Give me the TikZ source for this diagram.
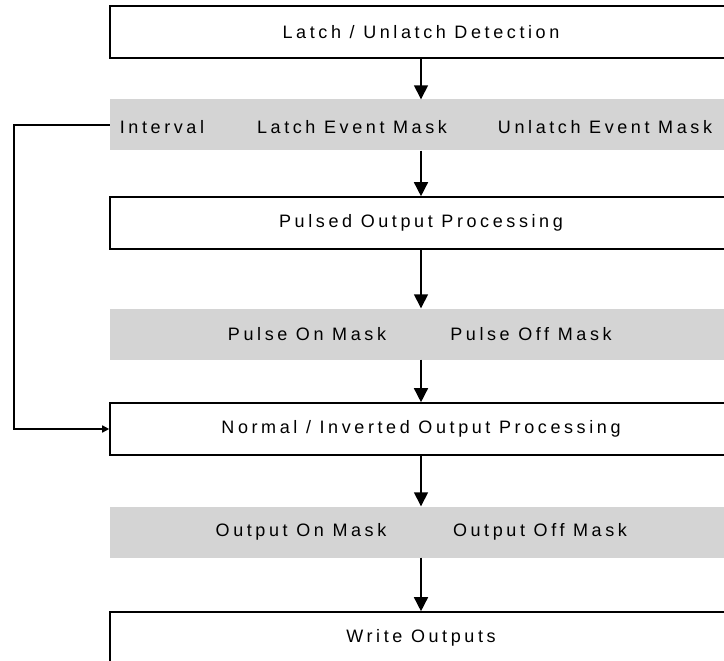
\documentclass[tikz,border=0pt]{standalone}
\usepackage{fontspec}
\setmainfont{Liberation Sans}[LetterSpace=20]
\usetikzlibrary{arrows.meta}
\tikzset{
  procbox/.style={draw,line width=1.6pt,fill=white,minimum width=622pt,minimum height=52pt,inner sep=0pt},
  maskband/.style={fill=black!17,minimum width=622pt,minimum height=51pt,inner sep=0pt},
  masklabel/.style={inner sep=0pt},
  flow/.style={line width=1.5pt,-{Triangle[width=14pt,length=14pt]}}
}
\begin{document}
\begin{tikzpicture}[x=1pt,y=-1pt,font=\fontsize{18}{20}\selectfont]
\useasboundingbox (0,0) rectangle (724,661);
\node[procbox] (latch) at (421,32) {Latch / Unlatch Detection};
\node[maskband] (band1) at (421,125) {};
\node[masklabel] (interval) at (162,127) {Interval};
\node[masklabel] (lemask) at (352,127) {Latch Event Mask};
\node[masklabel] (ulemask) at (605,127) {Unlatch Event Mask};
\node[procbox] (pulsed) at (421,223) {Pulsed Output Processing};
\node[maskband] (band2) at (421,334) {};
\node[masklabel] (ponmask) at (307,334) {Pulse On Mask};
\node[masklabel] (poffmask) at (531,334) {Pulse Off Mask};
\node[procbox] (norm) at (421,429) {Normal / Inverted Output Processing};
\node[maskband] (band3) at (421,532) {};
\node[masklabel] (oonmask) at (301,532) {Output On Mask};
\node[masklabel] (ooffmask) at (540,532) {Output Off Mask};
\node[procbox] (write) at (421,638) {Write Outputs};
\draw[flow] (latch) -- (band1);
\draw[flow] (band1) -- (pulsed);
\draw[flow] (pulsed) -- (band2);
\draw[flow] (band2) -- (norm);
\draw[flow] (norm) -- (band3);
\draw[flow] (band3) -- (write);
\draw[line width=1.5pt,-{Triangle[width=7pt,length=7pt]}] (band1.west) -- ++(-96,0) |- (norm.west);
\end{tikzpicture}
\end{document}
